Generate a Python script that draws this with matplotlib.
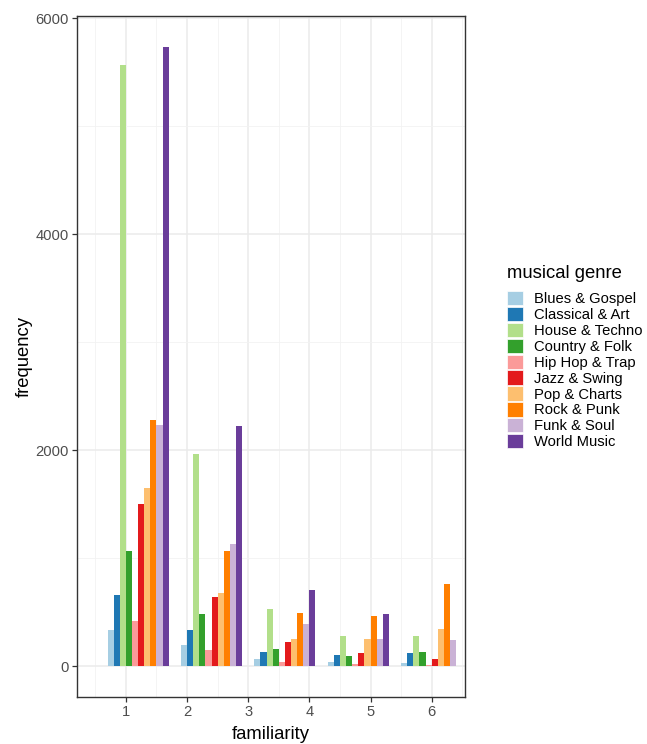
import matplotlib
matplotlib.use("Agg")
import matplotlib.pyplot as plt
from matplotlib.patches import Patch
from matplotlib.ticker import MultipleLocator
import numpy as np

plt.rcParams['font.family'] = ['Liberation Sans', 'DejaVu Sans']

genres = ["Blues & Gospel", "Classical & Art", "House & Techno", "Country & Folk",
          "Hip Hop & Trap", "Jazz & Swing", "Pop & Charts", "Rock & Punk",
          "Funk & Soul", "World Music"]
colors = ["#A6CEE3", "#1F78B4", "#B2DF8A", "#33A02C", "#FB9A99",
          "#E31A1C", "#FDBF6F", "#FF7F00", "#CAB2D6", "#6A3D9A"]

familiarity = np.array([1, 2, 3, 4, 5])
blues = [335, 191, 68, 40, 25]
classical = [655, 338, 127, 102, 117]
house = [5571, 1960, 528, 278, 281]
country = [1065, 486, 157, 96, 127]
hiphop = [418, 148, 40, 19, 12]
jazz = [1498, 637, 222, 117, 68]
pop = [1646, 674, 250, 250, 340]
rock = [2280, 1068, 494, 463, 756]
funk = [2231, 1135, 389, 250, 238]
world = [5734, 2222, 704, 485, 0]
series = [blues, classical, house, country, hiphop, jazz, pop, rock, funk, world]

x_ticks = [1, 2, 3, 4, 5, 6]
y_ticks = [0, 2000, 4000, 6000]

fig = plt.figure(figsize=(6.47, 7.44), dpi=100)
ax = fig.add_axes([77 / 647, 1 - 697 / 744, (465 - 77) / 647, (697 - 16) / 744])

bw = 0.1
centers = 1.2 * familiarity
for i, (vals, col) in enumerate(zip(series, colors)):
    xs = centers - 0.5 + bw / 2 + i * bw
    ax.bar(xs, vals, width=bw, color=col, linewidth=0, zorder=3)

ymax = max(max(s) for s in series)
ax.set_ylim(-0.05 * ymax, 1.05 * ymax)
ax.set_xlim(0.2, 6.545)

ax.set_xticks(x_ticks)
ax.set_yticks(y_ticks)
ax.xaxis.set_minor_locator(MultipleLocator(0.5))
ax.yaxis.set_minor_locator(MultipleLocator(1000))
ax.grid(which='major', color='#EBEBEB', linewidth=1.1, zorder=0)
ax.grid(which='minor', color='#F2F2F2', linewidth=0.6, zorder=0)
ax.set_axisbelow(True)

for sp in ax.spines.values():
    sp.set_color('#333333')
    sp.set_linewidth(1.0)

ax.tick_params(which='major', length=3.5, width=0.9, color='#333333',
               labelsize=10.6, labelcolor='#4D4D4D', pad=2.5)
ax.tick_params(which='minor', length=0)

ax.set_xlabel("familiarity", fontsize=13.3, labelpad=5)
ax.set_ylabel("frequency", fontsize=13.3, labelpad=1.7)

handles = [Patch(facecolor=c, edgecolor='white', linewidth=0.5) for c in colors]
leg = fig.legend(handles, genres, loc='upper left', bbox_to_anchor=(504 / 647, 1 - 262 / 744),
                 frameon=False, fontsize=10.6, title="musical genre", title_fontsize=13.3,
                 handlelength=1.12, handleheight=1.12, labelspacing=0.05,
                 handletextpad=0.75, borderaxespad=0, borderpad=0.2)
leg._legend_box.align = "left"
leg._legend_box.sep = 6.5

fig.savefig("out.png", dpi=100)
